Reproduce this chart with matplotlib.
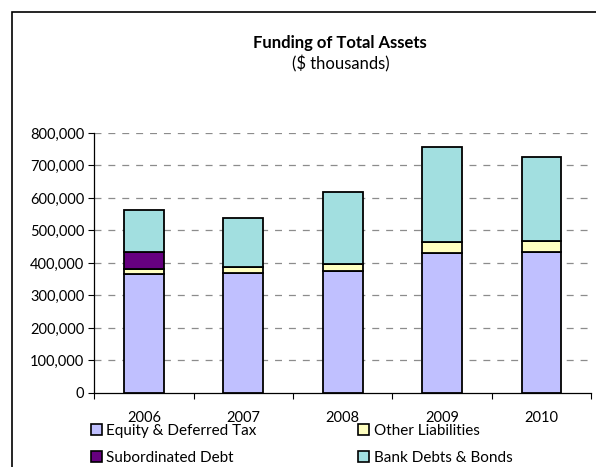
import matplotlib.pyplot as plt
from matplotlib.patches import Rectangle, Patch
import numpy as np

plt.rcParams['font.family'] = ['Lato', 'DejaVu Sans']
plt.rcParams['lines.scale_dashes'] = False

# funding components, $ thousands
years = ['2006', '2007', '2008', '2009', '2010']
equity = [367000, 370000, 375000, 432000, 435000]
other_liab = [15000, 19000, 21000, 33000, 34000]
sub_debt = [53000, 0, 0, 0, 0]
bank_debt = [127000, 148000, 222000, 291000, 258000]

series = [
    ('Equity & Deferred Tax', equity, '#C0C0FF'),
    ('Other Liabilities', other_liab, '#FFFFC0'),
    ('Subordinated Debt', sub_debt, '#660080'),
    ('Bank Debts & Bonds', bank_debt, '#A2DFE0'),
]

fig = plt.figure(figsize=(5.96, 4.67), dpi=100)
ax = fig.add_axes([0.158, 0.1585, 0.834, 0.5567])

x = np.arange(len(years))
bottom = np.zeros(len(years))
for label, vals, color in series:
    vals = np.array(vals, dtype=float)
    ax.bar(x, vals, width=0.40, bottom=bottom, color=color,
           edgecolor='black', linewidth=1.3, zorder=3)
    bottom += vals

ax.set_xlim(-0.5, len(years) - 0.5)
ax.set_ylim(0, 800000)
ax.set_yticks(np.arange(0, 800001, 100000))
ax.set_yticklabels([f'{v:,}' for v in range(0, 800001, 100000)], fontsize=10.5)
ax.set_xticks(x)
ax.set_xticklabels(years, fontsize=10.5)
ax.set_xticks(np.arange(-0.5, len(years), 1.0), minor=True)
ax.tick_params(axis='x', which='major', length=0, pad=13)
ax.tick_params(axis='x', which='minor', length=4, width=0.8, direction='out')
ax.tick_params(axis='y', length=4, width=0.8, direction='out', pad=3)

for v in range(100000, 800001, 100000):
    ax.axhline(v, color='#8c8c8c', linewidth=0.9,
               linestyle=(0, (5, 5)), zorder=1)

for s in ['top', 'right']:
    ax.spines[s].set_visible(False)
for s in ['left', 'bottom']:
    ax.spines[s].set_linewidth(0.9)

fig.text(0.571, 0.907, 'Funding of Total Assets', ha='center', va='center',
         fontsize=12, fontweight='bold')
fig.text(0.571, 0.864, '($ thousands)', ha='center', va='center', fontsize=12)

# legend: two rows, two columns
handles = {lab: Patch(facecolor=c, edgecolor='black', linewidth=1.2)
           for lab, _, c in series}
order = ['Equity & Deferred Tax', 'Subordinated Debt',
         'Other Liabilities', 'Bank Debts & Bonds']
fig.legend([handles[k] for k in order], order, ncol=2,
           loc='upper left', bbox_to_anchor=(0.153, 0.092),
           frameon=False, fontsize=11, handlelength=0.7, handleheight=0.7,
           handletextpad=0.3, columnspacing=6.65, labelspacing=0.85,
           borderaxespad=0, borderpad=0)

# outer frame around the chart (left and top edges)
fig.patches.append(Rectangle((0.020, -0.2), 1.2, 0.974 + 0.2, fill=False,
                             edgecolor='black', linewidth=1.2,
                             transform=fig.transFigure, clip_on=False))

fig.savefig('out.png', dpi=100)
